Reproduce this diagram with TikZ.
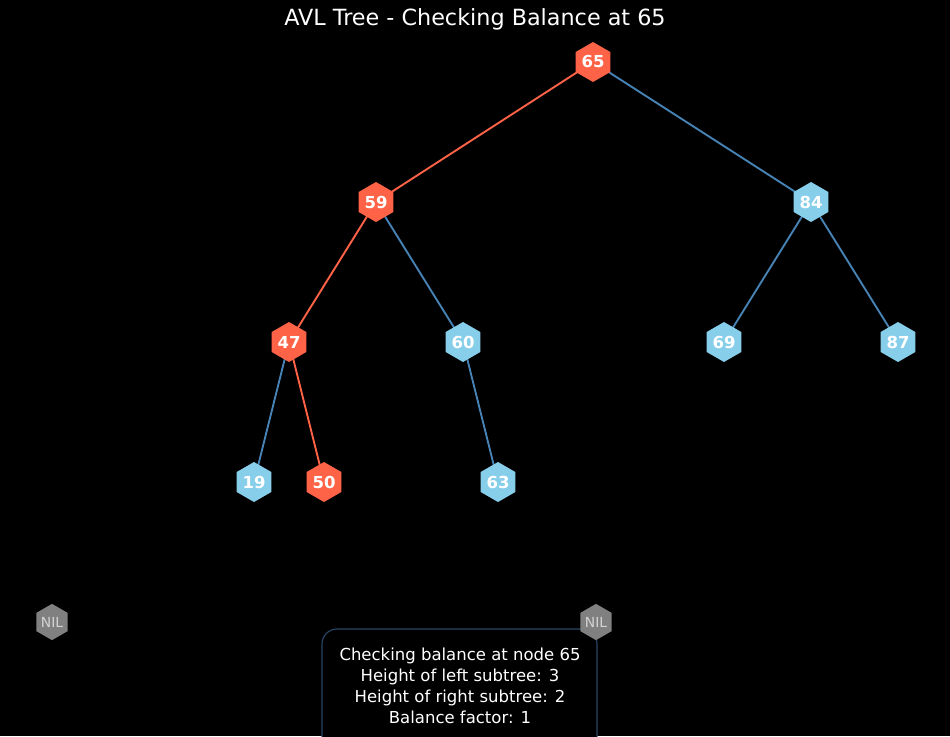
\documentclass[tikz,border=0pt]{standalone}
\usepackage{fontspec}
\setmainfont{DejaVu Sans}
\usetikzlibrary{shapes.geometric}
\definecolor{tomatoc}{HTML}{FF6347}
\definecolor{skyc}{HTML}{87CEEB}
\definecolor{steelc}{HTML}{4682B4}
\definecolor{nilc}{HTML}{808080}
\definecolor{niltext}{HTML}{D3D3D3}
\definecolor{boxborder}{RGB}{40,68,98}
\tikzset{
  hexnode/.style={regular polygon, regular polygon sides=6, regular polygon rotate=30, minimum size=40pt, inner sep=0pt,
    text=white, font=\fontsize{16.5}{18}\selectfont\bfseries},
  rednode/.style={hexnode, fill=tomatoc},
  bluenode/.style={hexnode, fill=skyc},
  nilnode/.style={regular polygon, regular polygon sides=6, regular polygon rotate=30, minimum size=27pt, inner sep=0pt,
    fill=nilc, text=niltext, font=\fontsize{13.9}{15}\selectfont},
  rededge/.style={draw=tomatoc, line width=1.9pt},
  blueedge/.style={draw=steelc, line width=1.9pt},
  infobox/.style={draw=boxborder, line width=1.2pt, fill=black, rounded corners=15pt},
  infotext/.style={text=white, font=\fontsize{16.5}{21}\selectfont, align=center},
  titletext/.style={text=white, font=\fontsize{22.3}{24}\selectfont}
}
\begin{document}
\begin{tikzpicture}[x=1pt,y=-1pt]
\useasboundingbox (0,0) rectangle (950,736);
\fill[black] (0,0) rectangle (950,736);
\clip (0,0) rectangle (950,736);
\node[titletext] (title) at (475,19) {AVL Tree - Checking Balance at 65};
\node[infobox, minimum width=275pt, minimum height=140pt] (box) at (459.5,699) {};
\node[infotext] (info) at (460,685.5) {Checking balance at node 65\\Height of left subtree: 3\\Height of right subtree: 2\\Balance factor: 1};
\coordinate (c65) at (593,62);
\coordinate (c59) at (376,202);
\coordinate (c84) at (811,202);
\coordinate (c47) at (289,342);
\coordinate (c60) at (463,342);
\coordinate (c69) at (724,342);
\coordinate (c87) at (898,342);
\coordinate (c19) at (254,482);
\coordinate (c50) at (324,482);
\coordinate (c63) at (498,482);
\draw[rededge] (c65) -- (c59);
\draw[blueedge] (c65) -- (c84);
\draw[rededge] (c59) -- (c47);
\draw[blueedge] (c59) -- (c60);
\draw[blueedge] (c84) -- (c69);
\draw[blueedge] (c84) -- (c87);
\draw[blueedge] (c47) -- (c19);
\draw[rededge] (c47) -- (c50);
\draw[blueedge] (c60) -- (c63);
\node[rednode] (n65) at (c65) {65};
\node[rednode] (n59) at (c59) {59};
\node[bluenode] (n84) at (c84) {84};
\node[rednode] (n47) at (c47) {47};
\node[bluenode] (n60) at (c60) {60};
\node[bluenode] (n69) at (c69) {69};
\node[bluenode] (n87) at (c87) {87};
\node[bluenode] (n19) at (c19) {19};
\node[rednode] (n50) at (c50) {50};
\node[bluenode] (n63) at (c63) {63};
\node[nilnode] (nil1) at (52,622) {NIL};
\node[nilnode] (nil2) at (596,622) {NIL};
\end{tikzpicture}
\end{document}
